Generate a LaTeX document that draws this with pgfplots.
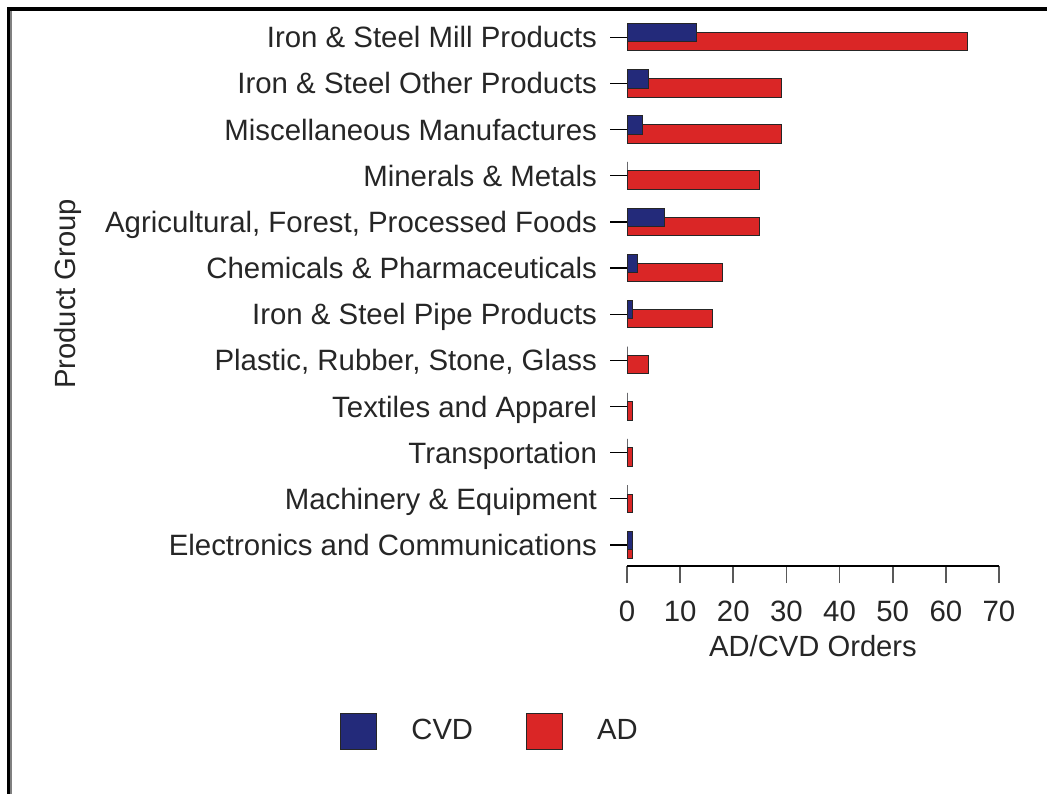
\documentclass[border=0pt]{standalone}
\usepackage{pgfplots}
\pgfplotsset{compat=1.18}
\usepackage{fontspec}
\setmainfont{Liberation Sans}
\definecolor{cvdblue}{RGB}{35,42,122}
\definecolor{adred}{RGB}{218,38,38}
\begin{document}
\begin{tikzpicture}
\useasboundingbox (0pt,0pt) rectangle (523.5pt,-397pt);
\fill[black] (3.5pt,-3.4pt) rectangle (5pt,-397pt);
\fill[gray] (5pt,-3.4pt) rectangle (6pt,-397pt);
\fill[black] (3.5pt,-3.4pt) rectangle (523.5pt,-5.4pt);
\begin{axis}[
  at={(313.5pt,-283pt)}, anchor=south west,
  scale only axis, width=186pt, height=274.85pt,
  xbar, bar width=9.2pt,
  xmin=0, xmax=70, ymin=-0.455, ymax=11.455,
  xtick={0,10,...,70},
  ytick={0,...,11},
  yticklabels={Electronics and Communications, Machinery \& Equipment, Transportation, Textiles and Apparel, {Plastic, Rubber, Stone, Glass}, Iron \& Steel Pipe Products, Chemicals \& Pharmaceuticals, {Agricultural, Forest, Processed Foods}, Minerals \& Metals, Miscellaneous Manufactures, Iron \& Steel Other Products, Iron \& Steel Mill Products},
  axis x line*=bottom, axis y line*=left,
  y axis line style={draw=none},
  tick align=outside, major tick length=8.5pt,
  tick style={black, line width=0.6pt},
  x axis line style={-, black, line width=0.6pt},
  xtick style={gray!70!black, line width=0.8pt},
  ytick style={black, line width=0.6pt},
  font=\fontsize{14.6pt}{17pt}\selectfont,
  ticklabel style={font=\fontsize{14.7pt}{17pt}\selectfont, text=black!85},
  /pgf/number format/assume math mode=true,
  yticklabel style={anchor=east, xshift=-3pt, text height=10.5pt, text depth=0pt},
  xticklabel style={yshift=-5.5pt},
  xlabel={AD/CVD Orders},
  xlabel style={yshift=0pt, text=black!85},
  ylabel={Product Group},
  ylabel style={at={(axis description cs:-1.5027,0.495)}, anchor=center, text=black!85},
  legend columns=2,
  reverse legend,
  legend image code/.code={\draw[#1, bar shift=0pt] (0pt,-9pt) rectangle (18pt,9pt);},
  legend style={draw=none, at={(-0.7715,-0.3003)}, anchor=west, inner xsep=0pt, inner ysep=0pt,
    nodes={inner sep=0pt, text=black!85},
    /tikz/every odd column/.style={column sep=17pt},
    /tikz/every even column/.style={column sep=26.5pt},
    font=\fontsize{14.6pt}{17pt}\selectfont},
]
\addplot[fill=adred, draw=black!85, line width=0.5pt, bar shift=-2.2pt] coordinates {
(1,0) (1,1) (1,2) (1,3) (4,4) (16,5) (18,6) (25,7) (25,8) (29,9) (29,10) (64,11)};
\addlegendentry{AD}
\addplot[fill=cvdblue, draw=black!85, line width=0.5pt, bar shift=2.3pt] coordinates {
(1,0) (0,1) (0,2) (0,3) (0,4) (1,5) (2,6) (7,7) (0,8) (3,9) (4,10) (13,11)};
\addlegendentry{CVD}
\end{axis}
\end{tikzpicture}
\end{document}
